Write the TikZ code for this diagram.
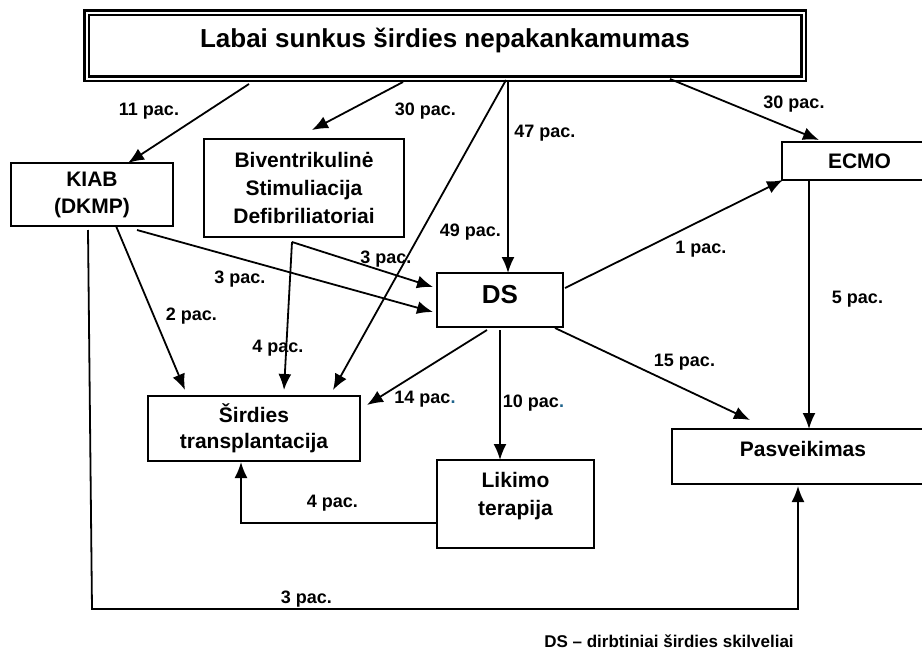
\documentclass[tikz,border=0pt]{standalone}
\usepackage{fontspec}
\setmainfont{Liberation Sans}
\usepackage{tikz}
\usetikzlibrary{arrows.meta}
\definecolor{dotblue}{RGB}{31,100,140}

\begin{document}
\begin{tikzpicture}[x=1pt, y=-1pt, line width=1.8pt,
  >={Latex[length=16pt,width=13pt]},
  box/.style={draw, font=\fontsize{21}{27}\selectfont\bfseries, align=center, inner sep=0pt, outer sep=0pt},
  lbl/.style={font=\fontsize{18}{20}\selectfont\bfseries, inner sep=0pt, anchor=base}]
\useasboundingbox (0,0) rectangle (922,651);

\node[box, double, double distance=2pt, line width=2.5pt, minimum width=717pt, minimum height=66pt, text height=18pt, text depth=15pt, font=\fontsize{26}{30}\selectfont\bfseries] (top) at (445,45.5) {Labai sunkus širdies nepakankamumas};
\node[box, minimum width=162pt, minimum height=63pt] (kiab) at (92,194.5) {KIAB\\(DKMP)};
\node[box, minimum width=200pt, minimum height=98pt, font=\fontsize{21}{28}\selectfont\bfseries] (biv) at (304,188) {Biventrikulinė\\Stimuliacija\\Defibriliatoriai};
\node[box, minimum width=155pt, minimum height=38pt, text height=15pt, text depth=1pt] (ecmo) at (859.5,161) {ECMO};
\node[box, minimum width=126pt, minimum height=54pt, text height=19pt, text depth=13pt, font=\fontsize{26}{30}\selectfont\bfseries] (ds) at (500,300) {DS};
\node[box, minimum width=212pt, minimum height=65pt, font=\fontsize{21}{26}\selectfont\bfseries] (tx) at (254,428.5) {Širdies\\transplantacija};
\node[box, minimum width=157pt, minimum height=88pt, text height=42pt, text depth=20pt, font=\fontsize{21}{28}\selectfont\bfseries] (lik) at (515.5,504) {Likimo\\terapija};
\node[box, minimum width=262pt, minimum height=55pt, text height=15pt, text depth=16pt] (pasv) at (803,456.5) {Pasveikimas};

\draw[->] ([xshift=-196pt,yshift=-5.5pt]top.south) -- ([xshift=36pt]kiab.north);
\draw[->] ([xshift=-42pt,yshift=-3.5pt]top.south) -- ([xshift=8pt,yshift=9pt]biv.north);
\draw[->] ([xshift=63pt,yshift=-1.5pt]top.south) -- ([xshift=8pt]ds.north);
\draw[->] ([xshift=61pt,yshift=-1.5pt]top.south) -- ([xshift=79pt,yshift=6pt]tx.north);
\draw[->] ([xshift=225pt,yshift=-0.5pt]top.south) -- ([xshift=-40.5pt,yshift=2pt]ecmo.north);

\draw[->] ([xshift=45pt,yshift=-4pt]kiab.south) -- ([xshift=-4pt,yshift=-12pt]ds.west);
\draw[->] ([xshift=24pt]kiab.south) -- ([xshift=-69pt,yshift=6pt]tx.north);
\coordinate (kiabturn) at (92,609);
\draw[->] ([xshift=-4pt,yshift=-4pt]kiab.south) -- (kiabturn) -| ([xshift=-5pt,yshift=-2pt]pasv.south);

\coordinate (bivout) at ([xshift=-12pt,yshift=-5pt]biv.south);
\draw[->] (bivout) -- ([xshift=-4pt,yshift=13pt]ds.west);
\draw[->] (bivout) -- ([xshift=30pt,yshift=6pt]tx.north);

\draw[->] ([xshift=2pt,yshift=12pt]ds.east) -- ([xshift=1pt]ecmo.south west);
\draw[->] ([xshift=55pt,yshift=-1pt]ds.south) -- ([xshift=-53pt,yshift=9pt]pasv.north);
\draw[->] ([xshift=-13pt,yshift=-3pt]ds.south) -- ([xshift=7pt,yshift=-9pt]tx.north east);
\draw[->] ([yshift=-3pt]ds.south) -- ([xshift=-15.5pt]lik.north);
\draw[->] ([xshift=-50.5pt]ecmo.south) -- ([xshift=6pt]pasv.north);
\draw[->] ([yshift=-19pt]lik.west) -| ([xshift=-13pt,yshift=-1pt]tx.south);

\node[lbl] (n11) at (149,115) {11 pac.};
\node[lbl] (n30a) at (425.5,115) {30 pac.};
\node[lbl] (n47) at (545,137) {47 pac.};
\node[lbl] (n49) at (470.5,236) {49 pac.};
\node[lbl] (n30b) at (794,108) {30 pac.};
\node[lbl] (n3a) at (240,283) {3 pac.};
\node[lbl] (n3b) at (386,263) {3 pac.};
\node[lbl] (n2) at (191.5,320) {2 pac.};
\node[lbl] (n4a) at (278,352) {4 pac.};
\node[lbl] (n1) at (701,253) {1 pac.};
\node[lbl] (n5) at (857.5,303) {5 pac.};
\node[lbl] (n15) at (684.5,366) {15 pac.};
\node[lbl] (n14) at (425,403) {14 pac\textcolor{dotblue}{.}};
\node[lbl] (n10) at (533.5,407) {10 pac\textcolor{dotblue}{.}};
\node[lbl] (n4b) at (332.5,507) {4 pac.};
\node[lbl] (n3c) at (306.5,603) {3 pac.};
\node[lbl, font=\fontsize{17}{20}\selectfont\bfseries] (note) at (669,647.5) {DS – dirbtiniai širdies skilveliai};
\end{tikzpicture}
\end{document}
